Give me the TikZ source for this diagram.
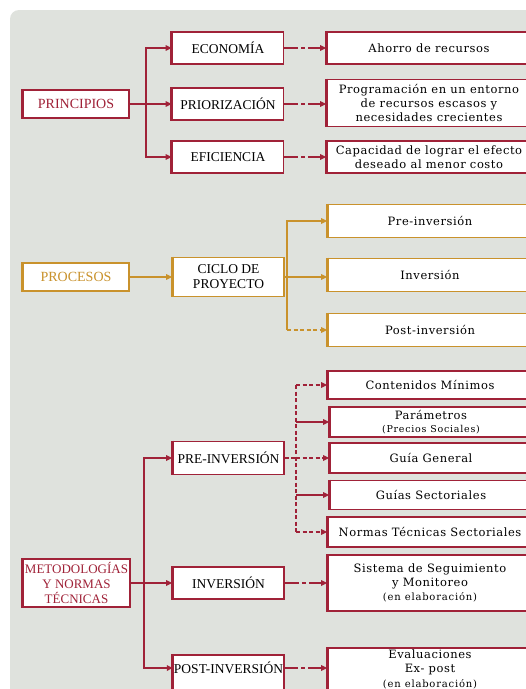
\documentclass[tikz,border=0pt]{standalone}
\usepackage{fontspec}
\setmainfont{Liberation Serif}
\newfontfamily\rfont[LetterSpace=5]{DejaVu Serif}
\newfontfamily\rsmall[LetterSpace=8]{DejaVu Serif}
\usetikzlibrary{arrows.meta}
\definecolor{mred}{HTML}{A02238}
\definecolor{mgold}{HTML}{C9922C}
\definecolor{bgc}{HTML}{DFE2DD}
\begin{document}
\begin{tikzpicture}[x=1pt,y=-1pt,
  box/.style={draw=#1, fill=white, line width=1.6pt, inner sep=0pt, align=center,
    append after command={(\tikzlastnode.north west) edge[draw=#1, line width=2.6pt] (\tikzlastnode.south west)}},
  lbox/.style={box=#1, text=#1, font=\fontsize{14}{15}\selectfont, minimum width=106pt, minimum height=28pt},
  mbox/.style={box=#1, font=\fontsize{13.5}{15}\selectfont, minimum width=111pt, minimum height=32pt},
  rbox/.style={box=#1, font=\rfont\fontsize{11.5}{14}\selectfont, minimum width=204pt, minimum height=32pt},
  con/.style={draw=#1, line width=1.7pt},
  arr/.style={con=#1, -{Triangle[length=6pt,width=5.5pt]}},
  ldash/.style={dash pattern=on 14pt off 3pt on 4pt off 3pt},
  sdash/.style={dash pattern=on 4pt off 2.5pt},
]
\useasboundingbox (0,0) rectangle (526,689);
\clip (0,0) rectangle (526,689);
\fill[white] (0,0) rectangle (526,689);
\fill[bgc, rounded corners=9pt] (10,10) rectangle (560,720);

% ---------- PRINCIPIOS ----------
\node[lbox=mred] (prin) at (76,104) {PRINCIPIOS};
\node[mbox=mred] (eco)  at (228,48)  {ECONOMÍA};
\node[mbox=mred] (prio) at (228,104) {PRIORIZACIÓN};
\node[mbox=mred] (efi)  at (228,157) {EFICIENCIA};
\node[rbox=mred] (ahorro) at (429,48) {Ahorro de recursos};
\node[rbox=mred, minimum height=47pt] (prog) at (429,103) {Programación en un entorno\\de recursos escasos y\\necesidades crecientes};
\node[rbox=mred] (capa) at (429,157) {Capacidad de lograr el efecto\\deseado al menor costo};

\coordinate (bp) at (146,104);
\draw[con=mred] (prin.east) -- (bp);
\draw[arr=mred] (bp) |- (eco.west);
\draw[arr=mred] (bp) -- (prio.west);
\draw[arr=mred] (bp) |- (efi.west);
\draw[arr=mred, ldash] (eco.east) -- (eco.east -| ahorro.west);
\draw[arr=mred, ldash] (prio.east) -- (prio.east -| prog.west);
\draw[arr=mred, ldash] (efi.east) -- (efi.east -| capa.west);

% ---------- PROCESOS ----------
\node[lbox=mgold] (proc) at (76,277) {PROCESOS};
\node[mbox=mgold, minimum height=39pt] (ciclo) at (228.5,277) {CICLO DE\\PROYECTO};
\node[rbox=mgold, minimum height=33pt] (prei) at (430,221) {Pre-inversión};
\node[rbox=mgold, minimum height=33pt] (inv)  at (430,275) {Inversión};
\node[rbox=mgold, minimum height=33pt] (posti) at (430,330) {Post-inversión};

\coordinate (bc) at (287,277);
\draw[arr=mgold] (proc.east) -- (proc.east -| ciclo.west);
\draw[con=mgold] (ciclo.east) -- (bc);
\draw[arr=mgold] (bc) |- (prei.west);
\draw[arr=mgold] (bc) -- (bc -| inv.west);
\draw[con=mgold] (bc) -- (bc |- posti.west) coordinate (bcp);
\draw[arr=mgold, sdash] (bcp) -- (posti.west);

% ---------- METODOLOGIAS ----------
\node[lbox=mred, font=\fontsize{13}{15}\selectfont, minimum width=107pt, minimum height=48pt] (met) at (76.5,583) {METODOLOGÍAS\\Y NORMAS\\TÉCNICAS};
\node[mbox=mred, minimum height=33pt] (preinv) at (228.5,458) {PRE-INVERSIÓN};
\node[mbox=mred] (inversion) at (228.5,583) {INVERSIÓN};
\node[mbox=mred, minimum height=42pt, anchor=north] (postinv) at (228.5,654) {};
\node[font=\fontsize{13.5}{15}\selectfont, minimum width=111pt, inner sep=0pt] (postinvlbl) at (228.5,668) {POST-INVERSIÓN};

\node[rbox=mred, minimum height=28pt] (cont) at (430,385) {Contenidos Mínimos};
\node[rbox=mred, minimum width=202pt, minimum height=30pt] (param) at (431,422) {Parámetros\\[-1pt]{\rsmall\fontsize{9.5}{12}\selectfont(Precios Sociales)}};
\node[rbox=mred, minimum width=202pt, minimum height=30pt] (guia) at (431,458) {Guía General};
\node[rbox=mred, minimum width=202pt, minimum height=29pt] (guias) at (431,495) {Guías Sectoriales};
\node[rbox=mred, minimum height=30pt] (normas) at (430,532) {Normas Técnicas Sectoriales};
\node[rbox=mred, minimum height=56pt] (sist) at (430,583) {Sistema de Seguimiento\\y Monitoreo\\{\rsmall\fontsize{10}{13}\selectfont(en elaboración)}};
\node[rbox=mred, minimum height=56pt, anchor=north] (evalbox) at (430,647) {};
\node[font=\rfont\fontsize{11.5}{14.5}\selectfont, align=center, inner sep=0pt] (evallbl) at (430,669) {Evaluaciones\\Ex- post\\{\rsmall\fontsize{10}{13}\selectfont(en elaboración)}};

\coordinate (bm) at (144,583);
\draw[con=mred] (met.east) -- (bm);
\draw[arr=mred] (bm) |- (preinv.west);
\draw[arr=mred] (bm) -- (inversion.west);
\draw[arr=mred] (bm) |- (postinvlbl.west);
\draw[arr=mred, ldash] (inversion.east) -- (inversion.east -| sist.west);
\draw[arr=mred, ldash] (postinvlbl.east) -- (postinvlbl.east -| evalbox.west);

\coordinate (bq) at (296,458);
\draw[con=mred, sdash] (preinv.east) -- (bq);
\draw[con=mred, sdash] (bq |- cont.west) -- (bq |- normas.west);
\draw[arr=mred, sdash] (bq |- cont.west) -- (cont.west);
\draw[arr=mred] (bq |- param.west) -- (param.west);
\draw[arr=mred, sdash] (bq) -- (guia.west);
\draw[arr=mred] (bq |- guias.west) -- (guias.west);
\draw[arr=mred, sdash] (bq |- normas.west) -- (normas.west);
\end{tikzpicture}
\end{document}
